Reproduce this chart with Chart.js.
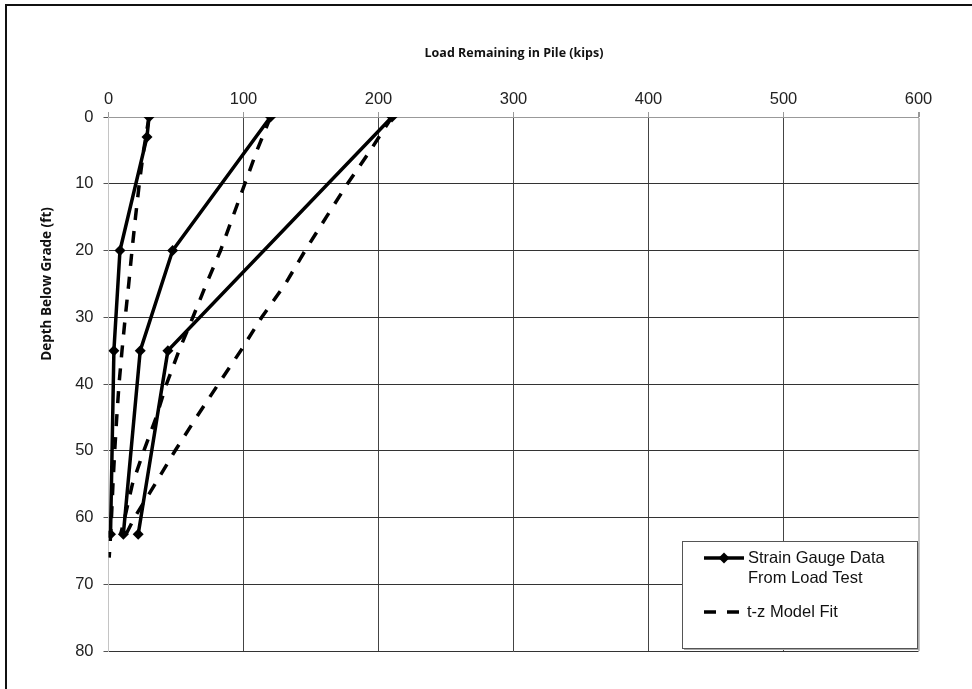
<!DOCTYPE html>
<html>
<head>
<meta charset="utf-8">
<title>Load Remaining in Pile</title>
<script src="https://cdn.jsdelivr.net/npm/chart.js@4.4.1/dist/chart.umd.min.js"></script>
<style>
  html, body { margin: 0; padding: 0; background: #fff; }
  #wrap { position: relative; width: 972px; height: 689px; overflow: hidden; }
  canvas { display: block; }
</style>
</head>
<body>
<div id="wrap"><canvas id="chart" width="972" height="689"></canvas></div>
<script>
// Axis ticks
const loadTicks = [0, 100, 200, 300, 400, 500, 600];
const depthTicks = [0, 10, 20, 30, 40, 50, 60, 70, 80];

// Strain gauge readings (depth in ft, load in kips)
const gaugeDepth1 = [0, 3, 20, 35, 62.5];
const gaugeLoad1  = [30, 28.5, 8.5, 4, 1.5];
const gaugeDepth2 = [0, 20, 35, 62.5];
const gaugeLoad2  = [120, 47.5, 23.5, 11];
const gaugeDepth3 = [0, 35, 62.5];
const gaugeLoad3  = [210, 44, 22];

// t-z model curves
const modelDepth1 = [0, 5, 10, 15, 20, 25, 30, 35, 40, 45, 50, 55, 60, 62.5, 66];
const modelLoad1  = [30, 26, 22.8, 20, 17.4, 15, 12.4, 10, 7.8, 6.1, 4.6, 3.3, 2.2, 1.6, 0.5];
const modelDepth2 = [0, 5, 10, 15, 20, 25, 30, 35, 40, 45, 50, 55, 60, 62.5];
const modelLoad2  = [120, 110, 101, 92, 83, 72.5, 62.5, 52.2, 43, 35.3, 26.2, 17.7, 12.1, 9];
const modelDepth3 = [0, 5, 10, 15, 20, 25, 30, 35, 40, 45, 50, 55, 60, 62.5];
const modelLoad3  = [210, 194, 177, 161.3, 145.7, 131, 113.5, 98, 81.4, 65.1, 49.3, 34.5, 19.3, 13];

const legendLabels = ['Strain Gauge Data\nFrom Load Test', 't-z Model Fit'];
const xTitle = 'Load Remaining in Pile (kips)';
const yTitle = 'Depth Below Grade (ft)';

const pts = (loads, depths) => loads.map((v, i) => ({ x: v, y: depths[i] }));

const LABEL_FONT = { family: "'Liberation Sans', Arial, sans-serif", size: 16.5 };
const DASH = [12, 11];
const LINE_W = 3.5;

function gaugeSet(loads, depths) {
  return {
    data: pts(loads, depths), showLine: true,
    borderColor: '#000', backgroundColor: '#000', borderWidth: LINE_W,
    pointStyle: 'rectRot', pointRadius: 5.5, pointHoverRadius: 5.5,
    pointBackgroundColor: '#000', pointBorderColor: '#000', pointBorderWidth: 0,
    order: 1
  };
}
function modelSet(loads, depths) {
  return {
    data: pts(loads, depths), showLine: true,
    borderColor: '#000', borderWidth: LINE_W, borderDash: DASH,
    pointRadius: 0, pointHoverRadius: 0, order: 2
  };
}

// Frame, titles and the boxed legend
const decor = {
  id: 'decor',
  beforeDraw(chart) {
    const c = chart.ctx;
    c.save();
    c.fillStyle = '#fff';
    c.fillRect(0, 0, chart.width, chart.height);
    c.strokeStyle = '#111';
    c.lineWidth = 2;
    c.beginPath();
    c.moveTo(6, 700); c.lineTo(6, 5); c.lineTo(980, 5);
    c.stroke();
    c.restore();
  },
  afterDraw(chart) {
    const c = chart.ctx;
    c.save();
    c.fillStyle = '#111';
    c.textAlign = 'center';
    c.textBaseline = 'middle';
    c.font = "bold 12.5px 'Liberation Sans Narrow', 'Open Sans', sans-serif";
    c.fillText(xTitle, 514, 53);
    c.translate(47, 284);
    c.rotate(-Math.PI / 2);
    c.font = "bold 13.5px 'Liberation Sans Narrow', 'Open Sans', sans-serif";
    c.fillText(yTitle, 0, 0);
    c.restore();

    // legend box
    const bx = 682, by = 541, bw = 235, bh = 107;
    c.save();
    c.fillStyle = '#aaa';
    c.fillRect(bx + 2, by + 2, bw, bh);
    c.fillStyle = '#fff';
    c.fillRect(bx, by, bw, bh);
    c.strokeStyle = '#555';
    c.lineWidth = 1;
    c.strokeRect(bx + 0.5, by + 0.5, bw, bh);

    c.strokeStyle = '#000';
    c.lineWidth = LINE_W;
    c.beginPath(); c.moveTo(704, 558); c.lineTo(744, 558); c.stroke();
    c.fillStyle = '#000';
    c.beginPath();
    c.moveTo(724, 552.5); c.lineTo(729.5, 558); c.lineTo(724, 563.5); c.lineTo(718.5, 558);
    c.closePath(); c.fill();

    c.setLineDash(DASH);
    c.beginPath(); c.moveTo(704, 612); c.lineTo(740, 612); c.stroke();
    c.setLineDash([]);

    c.font = "16.5px 'Liberation Sans', Arial, sans-serif";
    c.fillStyle = '#111';
    c.textAlign = 'left';
    c.textBaseline = 'middle';
    const l1 = legendLabels[0].split('\n');
    c.fillText(l1[0], 748, 558);
    c.fillText(l1[1], 748, 578);
    c.fillText(legendLabels[1], 747, 612);
    c.restore();
  }
};

new Chart(document.getElementById('chart'), {
  type: 'scatter',
  data: {
    datasets: [
      gaugeSet(gaugeLoad1, gaugeDepth1),
      gaugeSet(gaugeLoad2, gaugeDepth2),
      gaugeSet(gaugeLoad3, gaugeDepth3),
      modelSet(modelLoad1, modelDepth1),
      modelSet(modelLoad2, modelDepth2),
      modelSet(modelLoad3, modelDepth3)
    ]
  },
  options: {
    responsive: false,
    animation: false,
    events: [],
    layout: { padding: { left: 48.5, top: 77, right: 53.5, bottom: 38 } },
    plugins: { legend: { display: false }, tooltip: { enabled: false } },
    scales: {
      x: {
        type: 'linear', position: 'top',
        min: loadTicks[0], max: loadTicks[loadTicks.length - 1],
        afterFit: s => { s.height = 40; },
        afterBuildTicks: s => { s.ticks = loadTicks.map(v => ({ value: v })); },
        ticks: { font: LABEL_FONT, color: '#222', padding: 3, maxRotation: 0 },
        grid: {
          color: ctx => (ctx.tick && (ctx.tick.value === 0 || ctx.tick.value === 600)) ? '#c4c4c4' : '#444',
          lineWidth: ctx => (ctx.tick && ctx.tick.value === 600) ? 2 : 1,
          tickLength: 5,
          tickColor: '#999'
        },
        border: { color: '#999', width: 1 }
      },
      y: {
        type: 'linear', reverse: true,
        min: depthTicks[0], max: depthTicks[depthTicks.length - 1],
        afterFit: s => { s.width = 60; },
        afterBuildTicks: s => { s.ticks = depthTicks.map(v => ({ value: v })); },
        ticks: { font: LABEL_FONT, color: '#222', padding: 10 },
        grid: {
          color: ctx => (ctx.tick && ctx.tick.value === 0) ? '#999' : '#333',
          tickLength: 5,
          tickColor: '#555'
        },
        border: { color: '#c4c4c4', width: 1 }
      }
    }
  },
  plugins: [decor]
});
</script>
</body>
</html>
